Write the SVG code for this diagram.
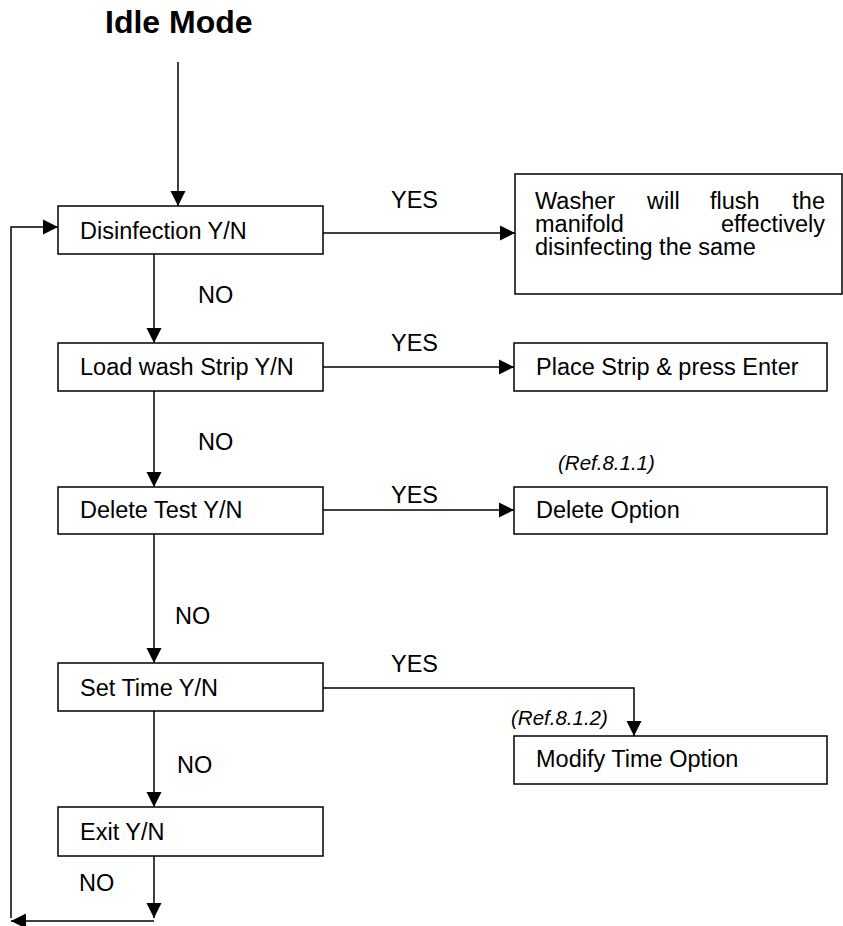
<svg xmlns="http://www.w3.org/2000/svg" width="843" height="926" viewBox="0 0 843 926">
<style>
text{font-family:"Liberation Sans",Arial,sans-serif;fill:#000}
.t{font-size:23.5px}
.h{font-size:32px;font-weight:bold}
.r{font-size:20.5px;font-style:italic}
.box{fill:#fff;stroke:#000;stroke-width:1.5}
.c{fill:none;stroke:#000;stroke-width:1.5}
</style>
<defs>
<marker id="ah" markerUnits="userSpaceOnUse" markerWidth="16" markerHeight="16" viewBox="0 0 16 16" refX="15" refY="8" orient="auto">
<path d="M0,0.5 L15,8 L0,15.5 Z" fill="#000"/>
</marker>
</defs>
<g id="title"><text class="h" x="105" y="33">Idle Mode</text></g>
<g id="connectors">
<path class="c" d="M178,62 V206" marker-end="url(#ah)"/>
<path class="c" d="M323,233 H515" marker-end="url(#ah)"/>
<path class="c" d="M154,254 V343" marker-end="url(#ah)"/>
<path class="c" d="M323,367 H514" marker-end="url(#ah)"/>
<path class="c" d="M154,391 V487" marker-end="url(#ah)"/>
<path class="c" d="M323,510 H514" marker-end="url(#ah)"/>
<path class="c" d="M154,534 V663" marker-end="url(#ah)"/>
<path class="c" d="M323,688 H634 V736" marker-end="url(#ah)"/>
<path class="c" d="M154,711 V807" marker-end="url(#ah)"/>
<path class="c" d="M154,856 V918" marker-end="url(#ah)"/>
<path class="c" d="M154,921 H11" marker-end="url(#ah)"/>
<path class="c" d="M11,918 V227 H58" marker-end="url(#ah)"/>
<text class="t" x="391" y="208">YES</text>
<text class="t" x="198" y="303">NO</text>
<text class="t" x="391" y="351">YES</text>
<text class="t" x="198" y="450">NO</text>
<text class="t" x="391" y="503">YES</text>
<text class="t" x="175" y="624">NO</text>
<text class="t" x="391" y="672">YES</text>
<text class="t" x="177" y="773">NO</text>
<text class="t" x="79" y="891">NO</text>
</g>
<g id="disinfection"><rect class="box" x="58" y="206" width="265" height="48"/><text class="t" x="80" y="239">Disinfection Y/N</text></g>
<g id="washer"><rect class="box" x="515" y="174" width="327" height="120"/>
<text class="t" x="535" y="209">Washer</text><text class="t" x="647" y="209">will</text><text class="t" x="710" y="209">flush</text><text class="t" x="825" y="209" text-anchor="end">the</text>
<text class="t" x="535" y="232">manifold</text><text class="t" x="825" y="232" text-anchor="end">effectively</text>
<text class="t" x="535" y="255">disinfecting the same</text></g>
<g id="load"><rect class="box" x="58" y="343" width="265" height="48"/><text class="t" x="80" y="375">Load wash Strip Y/N</text></g>
<g id="place"><rect class="box" x="514" y="343" width="313" height="48"/><text class="t" x="536" y="375">Place Strip &amp; press Enter</text></g>
<g id="ref1"><text class="r" x="558" y="470">(Ref.8.1.1)</text></g>
<g id="delete"><rect class="box" x="58" y="487" width="265" height="47"/><text class="t" x="80" y="518">Delete Test Y/N</text></g>
<g id="deleteopt"><rect class="box" x="514" y="487" width="313" height="47"/><text class="t" x="536" y="518">Delete Option</text></g>
<g id="settime"><rect class="box" x="58" y="663" width="265" height="48"/><text class="t" x="80" y="696">Set Time Y/N</text></g>
<g id="ref2"><text class="r" x="511" y="725">(Ref.8.1.2)</text></g>
<g id="modify"><rect class="box" x="514" y="736" width="313" height="48"/><text class="t" x="536" y="767">Modify Time Option</text></g>
<g id="exit"><rect class="box" x="58" y="807" width="265" height="49"/><text class="t" x="80" y="840">Exit Y/N</text></g>
</svg>
